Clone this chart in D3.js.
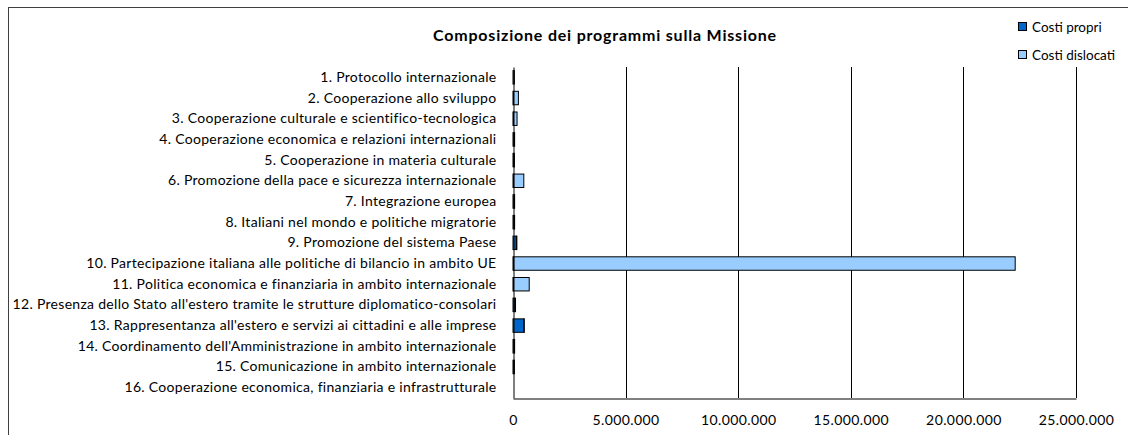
<!DOCTYPE html>
<html><head><meta charset="utf-8">
<script src="https://cdn.jsdelivr.net/npm/d3@7"></script>
<style>body{margin:0;background:#fff}svg{display:block}text{font-family:Lato,"Open Sans",sans-serif;fill:#000}</style>
</head><body><svg id="c" width="1128" height="435"></svg>
<script>
const categories = [
"1. Protocollo internazionale",
"2. Cooperazione allo sviluppo",
"3. Cooperazione culturale e scientifico-tecnologica",
"4. Cooperazione economica e relazioni internazionali",
"5. Cooperazione in materia culturale",
"6. Promozione della pace e sicurezza internazionale",
"7. Integrazione europea",
"8. Italiani nel mondo e politiche migratorie",
"9. Promozione del sistema Paese",
"10. Partecipazione italiana alle politiche di bilancio in ambito UE",
"11. Politica economica e finanziaria in ambito internazionale",
"12. Presenza dello Stato all'estero tramite le strutture diplomatico-consolari",
"13. Rappresentanza all'estero e servizi ai cittadini e alle imprese",
"14. Coordinamento dell'Amministrazione in ambito internazionale",
"15. Comunicazione in ambito internazionale",
"16. Cooperazione economica, finanziaria e infrastrutturale"];
const costiPropri    = [60000, 20000, 20000, 50000, 40000, 30000, 50000, 50000, 150000, 30000, 20000, 90000, 480000, 50000, 40000, 0];
const costiDislocati = [0, 220000, 160000, 10000, 10000, 450000, 10000, 10000, 20000, 22270000, 700000, 10000, 20000, 10000, 10000, 0];
const tickValues = [0, 5000000, 10000000, 15000000, 20000000, 25000000];
const seriesNames = ["Costi propri", "Costi dislocati"];
const seriesColors = ["#0066CC", "#99CCFF"];

const svg = d3.select("#c");
const L = 513, R = 1076, T = 67, B = 398;
const x = d3.scaleLinear().domain([0, 25000000]).range([L, R]);
const y = d3.scaleBand().domain(categories).range([T, B]).paddingInner(0.35).paddingOuter(0.175);
const it = d3.formatLocale({decimal: ",", thousands: ".", grouping: [3], currency: ["€", ""]});
const fmt = it.format(",d");

// outer chart border
svg.append("rect").attr("x", 8.5).attr("y", 7.5).attr("width", 1140).attr("height", 440)
  .attr("fill", "none").attr("stroke", "#404040").attr("stroke-width", 1);

// title
svg.append("text").attr("x", 605).attr("y", 41).attr("text-anchor", "middle")
  .style("font-size", "16px").style("font-weight", "bold").style("letter-spacing", "0.8px")
  .text("Composizione dei programmi sulla Missione");

// gridlines
svg.append("g").selectAll("line").data(tickValues.slice(1)).join("line")
  .attr("x1", d => Math.round(x(d)) + 0.5).attr("x2", d => Math.round(x(d)) + 0.5)
  .attr("y1", T).attr("y2", B).attr("stroke", "#000").attr("stroke-width", 1);

// stacked bars
const stackData = categories.map((c, i) => ({cat: c, p: costiPropri[i], d: costiDislocati[i]}));
const stack = d3.stack().keys(["p", "d"])(stackData);
svg.append("g").selectAll("g").data(stack).join("g")
  .attr("fill", (s, i) => seriesColors[i])
  .selectAll("rect").data(s => s.filter(v => v[1] - v[0] > 0)).join("rect")
  .attr("x", v => x(v[0])).attr("width", v => Math.max(0.5, x(v[1]) - x(v[0])))
  .attr("y", v => y(v.data.cat)).attr("height", y.bandwidth())
  .attr("stroke", "#000").attr("stroke-width", 1);

// axes
const xAxis = d3.axisBottom(x).tickValues(tickValues).tickFormat(fmt).tickSize(0).tickPadding(17);
const gx = svg.append("g").attr("transform", `translate(0,${B + 0.5})`).call(xAxis);
gx.select(".domain").attr("stroke", "#000");
gx.selectAll("text").style("font-size", "14px").style("font-family", "Lato").style("letter-spacing", "0.4px");

const yAxis = d3.axisLeft(y).tickSize(0).tickPadding(17);
const gy = svg.append("g").attr("transform", `translate(${L + 0.5},0)`).call(yAxis);
gy.select(".domain").attr("stroke", "#000");
gy.selectAll("text").style("font-size", "14px").style("font-family", "Lato").style("letter-spacing", "0.3px");

// legend
const lg = svg.append("g").selectAll("g").data(seriesNames).join("g")
  .attr("transform", (d, i) => `translate(1018,${22 + i * 28})`);
lg.append("rect").attr("width", 8).attr("height", 8).attr("x", 0.5).attr("y", 0.5)
  .attr("fill", (d, i) => seriesColors[i]).attr("stroke", "#000");
lg.append("text").attr("x", 14).attr("y", 10).style("font-size", "13.5px").text(d => d);
</script></body></html>
